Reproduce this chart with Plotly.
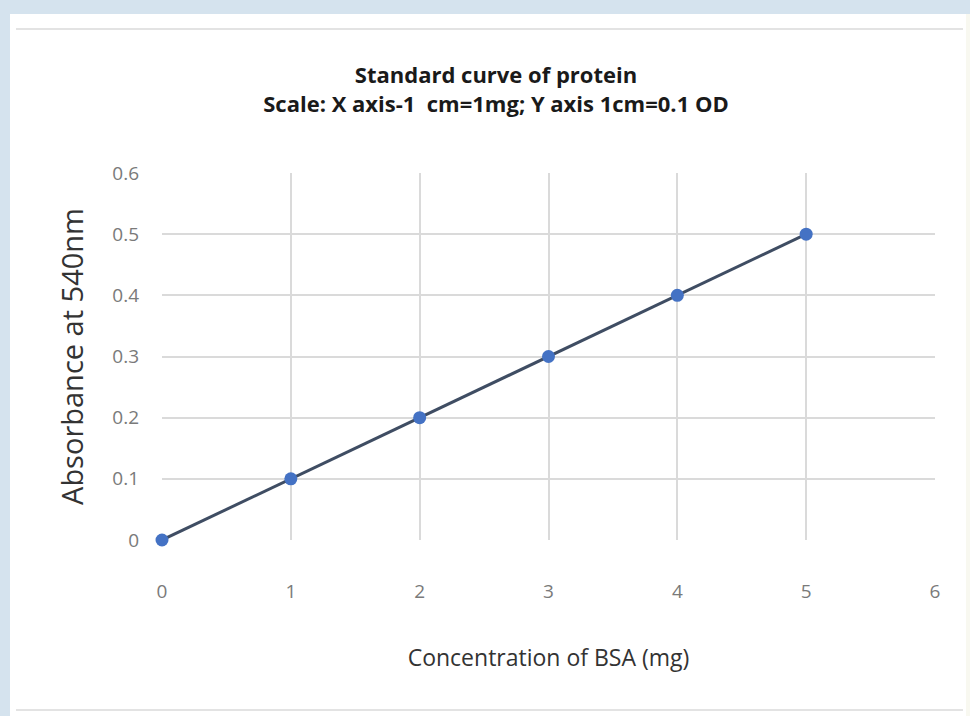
import plotly.graph_objects as go

# Data
concentration_mg = [0, 1, 2, 3, 4, 5]
absorbance_540 = [0.0, 0.1, 0.2, 0.3, 0.4, 0.5]
x_ticks = [0, 1, 2, 3, 4, 5, 6]
y_ticks = [0, 0.1, 0.2, 0.3, 0.4, 0.5, 0.6]
y_tick_labels = ["0", "0.1", "0.2", "0.3", "0.4", "0.5", "0.6"]

W, H = 970, 716
L, R, T, B = 162, 35, 173, 176
pw, ph = W - L - R, H - T - B

def px(p):
    return (p - L) / pw

def py(p):
    return 1 - (p - T) / ph

fig = go.Figure()
fig.add_trace(go.Scatter(
    x=concentration_mg, y=absorbance_540, mode="lines+markers",
    line=dict(color="#3f4d63", width=3),
    marker=dict(color="#4472c4", size=13),
    cliponaxis=False,
    showlegend=False,
))

shapes = [
    dict(type="rect", xref="paper", yref="paper", layer="below",
         x0=px(10), x1=px(966), y0=py(716), y1=py(14),
         fillcolor="white", line=dict(width=0)),
    dict(type="rect", xref="paper", yref="paper", layer="below",
         x0=px(966), x1=px(970), y0=py(716), y1=py(14),
         fillcolor="#f8f8f0", line=dict(width=0)),
    dict(type="line", xref="paper", yref="paper", layer="below",
         x0=px(16), x1=px(963), y0=py(29), y1=py(29),
         line=dict(color="#e3e3e3", width=2)),
    dict(type="line", xref="paper", yref="paper", layer="below",
         x0=px(16), x1=px(963), y0=py(710), y1=py(710),
         line=dict(color="#e3e3e3", width=2)),
]

fig.update_layout(
    width=W, height=H,
    margin=dict(l=L, r=R, t=T, b=B),
    paper_bgcolor="#d5e3ee",
    plot_bgcolor="rgba(0,0,0,0)",
    shapes=shapes,
    title=dict(
        text="<b>Standard curve of protein</b><br><b>Scale: X axis-1\u00a0 cm=1mg; Y axis 1cm=0.1 OD</b>",
        x=496 / W, xanchor="center", y=1 - 83 / H, yanchor="middle",
        font=dict(family="Open Sans", size=22, color="#1a1a1a"),
    ),
    font=dict(family="Open Sans"),
)
fig.update_xaxes(
    range=[0, 6], tickvals=x_ticks, showgrid=True, gridcolor="#dadada", gridwidth=2,
    zeroline=False, showline=False, ticks="",
    tickfont=dict(size=19, color="#7a7a7a"), ticklabelstandoff=38,
    title=dict(text="Concentration of BSA (mg)", font=dict(size=23, color="#333333"), standoff=46),
)
fig.update_yaxes(
    range=[0, 0.6], tickvals=y_ticks, ticktext=y_tick_labels, showgrid=True,
    gridcolor="#dadada", gridwidth=2,
    zeroline=False, showline=False, ticks="",
    tickfont=dict(size=19, color="#7a7a7a"), ticklabelstandoff=22,
    title=dict(text="Absorbance at 540nm", font=dict(size=29, color="#333333"), standoff=20),
)
fig.write_html("out.html", config={"displayModeBar": False},
               post_script="document.body.style.margin='0';")
